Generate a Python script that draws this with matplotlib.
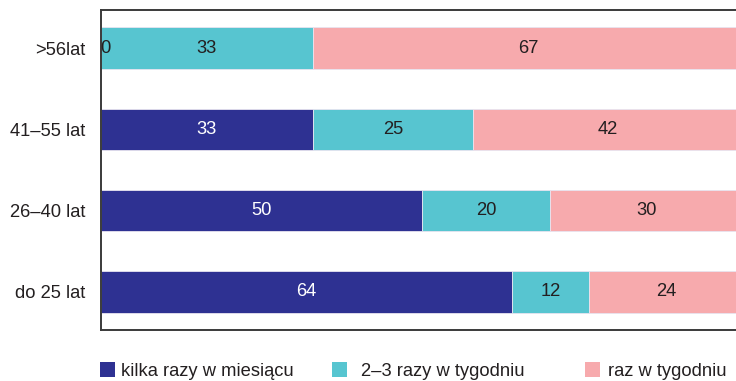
import matplotlib
matplotlib.use("Agg")
import matplotlib.pyplot as plt
from matplotlib.patches import Patch
import numpy as np

plt.rcParams['font.family'] = ['Liberation Sans', 'DejaVu Sans']

categories = ["do 25 lat", "26–40 lat", "41–55 lat", ">56lat"]
series_names = ["kilka razy w miesiącu", "2–3 razy w tygodniu", "raz w tygodniu"]
kilka = [64, 50, 33, 0]
dwa_trzy = [12, 20, 25, 33]
raz = [24, 30, 42, 67]
colors = ["#2e3192", "#57c5d0", "#f7aaad"]
text_colors = ["white", "#231f20", "#231f20"]

FS = 13.2

fig = plt.figure(figsize=(7.36, 3.81), dpi=100)
ax = fig.add_axes([101/736, 1 - 330/381, 642/736, 320/381])

y = np.arange(len(categories))
left = np.zeros(len(categories))
for vals, col, tc in zip([kilka, dwa_trzy, raz], colors, text_colors):
    vals = np.array(vals, dtype=float)
    ax.barh(y, vals, left=left, height=0.51, color=col, edgecolor="#e8e4f0", linewidth=0.6)
    for yi, (l, v) in enumerate(zip(left, vals)):
        if v > 0:
            ax.text(l + v / 2, yi, f"{int(v)}", ha="center", va="center", color=tc, fontsize=FS)
        else:
            ax.text(0.7, yi, f"{int(v)}", ha="center", va="center", color="#231f20", fontsize=FS, clip_on=True)
    left += vals

ax.set_xlim(0, 100)
ax.set_ylim(-0.47, 3.47)
ax.set_yticks(y)
ax.set_yticklabels(categories, fontsize=FS, color="#231f20")
ax.tick_params(axis="y", length=0, pad=11)
ax.set_xticks([])
for s in ["left", "top", "bottom", "right"]:
    ax.spines[s].set_color("#3a3a3a")
    ax.spines[s].set_linewidth(1.4)

xs = [100/736, 332/736, 585/736]
pads = [0.33, 0.8, 0.48]
for name, col, xf, pad in zip(series_names, colors, xs, pads):
    fig.legend(handles=[Patch(facecolor=col, edgecolor="none")], labels=[name],
               loc="center left", bbox_to_anchor=(xf, 1 - 371/381), frameon=False,
               borderpad=0, borderaxespad=0, handlelength=0.8, handleheight=0.82,
               handletextpad=pad, fontsize=FS, labelcolor="#231f20")

fig.savefig("out.png", dpi=100)
